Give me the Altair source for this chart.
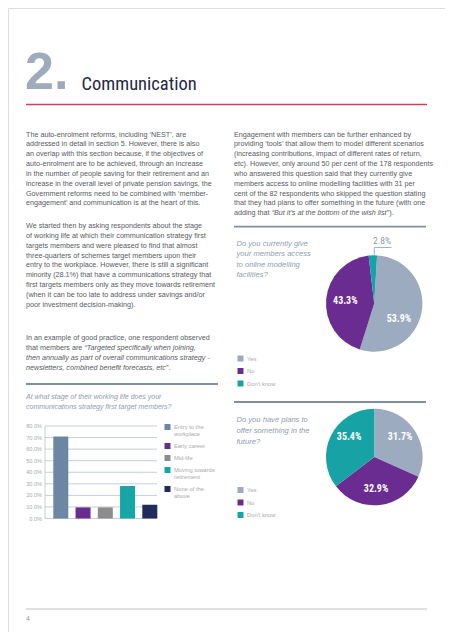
import math
import altair as alt
import pandas as pd

# ---------------- data ----------------
section_number = "2."
section_title = "Communication"

left_paragraph_1 = [
    "The auto-enrolment reforms, including ‘NEST’, are",
    "addressed in detail in section 5. However, there is also",
    "an overlap with this section because, if the objectives of",
    "auto-enrolment are to be achieved, through an increase",
    "in the number of people saving for their retirement and an",
    "increase in the overall level of private pension savings, the",
    "Government reforms need to be combined with ‘member-",
    "engagement’ and communication is at the heart of this.",
]
left_paragraph_2 = [
    "We started then by asking respondents about the stage",
    "of working life at which their communication strategy first",
    "targets members and were pleased to find that almost",
    "three-quarters of schemes target members upon their",
    "entry to the workplace. However, there is still a significant",
    "minority (28.1%) that have a communications strategy that",
    "first targets members only as they move towards retirement",
    "(when it can be too late to address under savings and/or",
    "poor investment decision-making).",
]
left_paragraph_3 = [
    "In an example of good practice, one respondent observed",
    "that members are *“Targeted specifically when joining,*",
    "*then annually as part of overall communications strategy -*",
    "*newsletters, combined benefit forecasts, etc”*.",
]
right_paragraph = [
    "Engagement with members can be further enhanced by",
    "providing ‘tools’ that allow them to model different scenarios",
    "(increasing contributions, impact of different rates of return,",
    "etc). However, only around 50 per cent of the 178 respondents",
    "who answered this question said that they currently give",
    "members access to online modelling facilities with 31 per",
    "cent of the 82 respondents who skipped the question stating",
    "that they had plans to offer something in the future (with one",
    "adding that *“But it’s at the bottom of the wish list”*).",
]

bar_question = [
    "At what stage of their working life does your",
    "communications strategy first target members?",
]
bar_categories = [
    "Entry to the\nworkplace",
    "Early career",
    "Mid-life",
    "Moving towards\nretirement",
    "None of the\nabove",
]
bar_values = [71.0, 9.6, 9.6, 28.1, 11.9]
bar_ticks = [0, 10, 20, 30, 40, 50, 60, 70, 80]

pie_categories = ["Yes", "No", "Don't know"]
pie1_question = ["Do you currently give", "your members access", "to online modelling", "facilities?"]
pie1_values = [53.9, 43.3, 2.8]
pie2_question = ["Do you have plans to", "offer something in the", "future?"]
pie2_values = [31.7, 32.9, 35.4]

page_number = "4"

# ---------------- style ----------------
MARGIN = 8
W, H = 437, 624
BODY = "Liberation Sans, Arial, sans-serif"
CONDENSED = "Roboto Condensed, DejaVu Sans Condensed, Liberation Sans, sans-serif"
TEXT_GREY = "#575a62"
QUESTION = "#8e9cb0"
LIGHT = "#a9abae"
RULE_BLUE = "#7f8fa5"
bar_colors = ["#6d86a3", "#6a2c91", "#8c8c8e", "#17a6a7", "#1e2b5c"]
pie_colors = ["#9cabbf", "#6a2c91", "#17a3a5"]
pie1_label_frac = [0.61, 0.5, None]
pie2_label_frac = [0.46, 0.53, 0.6]


def X(p):
    return p - MARGIN


def Y(p):
    return p - MARGIN


_w = {}
for chars, w in [(" ,.:;!ft/I[]", 278), ("ijl‘’'", 222), ("r-()“”\"", 333),
                 ("ckvxyzsJ", 500), ("abdeghnopqu0123456789?_", 556),
                 ("mM", 833), ("w", 722), ("ABEKPSVXY", 667), ("CDHNRU", 722),
                 ("FTZ", 611), ("GOQ", 778), ("L", 556), ("W", 944), ("%", 889)]:
    for c in chars:
        _w[c] = w


def text_width(s, size):
    return sum(_w.get(c, 556) for c in s) / 1000.0 * size


def text_layers(lines, x0, y0, lh, size, color, italic=False, font=BODY, weight="normal"):
    rows = []
    for i, line in enumerate(lines):
        parts = line.split("*")
        x = x0
        for k, part in enumerate(parts):
            if not part:
                continue
            it = (k % 2 == 1) != italic
            rows.append({"t": part, "px": X(x), "py": Y(y0 + i * lh), "it": it})
            x += text_width(part, size)
    df = pd.DataFrame(rows)
    out = []
    for it in (False, True):
        sub = df[df["it"] == it]
        if len(sub) == 0:
            continue
        out.append(
            alt.Chart(sub[["t", "px", "py"]]).mark_text(
                align="left", baseline="middle", font=font, fontSize=size,
                fontStyle="italic" if it else "normal", fontWeight=weight, color=color,
            ).encode(
                x=alt.X("px:Q", scale=None, axis=None),
                y=alt.Y("py:Q", scale=None, axis=None),
                text="t:N",
            )
        )
    return out


def hline(x1, x2, y, color, width):
    return alt.Chart(pd.DataFrame({"k": [0]})).mark_rule(color=color, strokeWidth=width).encode(
        x=alt.value(X(x1)), x2=alt.value(X(x2)), y=alt.value(Y(y))
    )


def vline(x, y1, y2, color, width):
    return alt.Chart(pd.DataFrame({"k": [0]})).mark_rule(color=color, strokeWidth=width).encode(
        x=alt.value(X(x)), y=alt.value(Y(y1)), y2=alt.value(Y(y2))
    )


layers = []

# ---------------- header ----------------
layers.append(
    alt.Chart(pd.DataFrame({"t": [section_number]})).mark_text(
        align="left", baseline="alphabetic", font=BODY, fontSize=52, fontWeight="bold", color="#9dabbd"
    ).encode(x=alt.value(X(25)), y=alt.value(Y(89)), text="t:N")
)
layers.append(
    alt.Chart(pd.DataFrame({"t": [section_title]})).mark_text(
        align="left", baseline="alphabetic", font=CONDENSED, fontSize=18.5, color="#1f2946"
    ).encode(x=alt.value(X(81.5)), y=alt.value(Y(90)), text="t:N")
)
layers.append(hline(26, 427, 104.5, "#c8435d", 1.4))

# ---------------- body text ----------------
LH = 9.85
BS = 7.2
layers += text_layers(left_paragraph_1, 26, 134.5, LH, BS, TEXT_GREY)
layers += text_layers(left_paragraph_2, 26, 226, LH, BS, TEXT_GREY)
layers += text_layers(left_paragraph_3, 26, 338, LH, BS, TEXT_GREY)
layers += text_layers(right_paragraph, 234, 134.5, LH, BS, TEXT_GREY)

# separators
layers.append(hline(26, 218, 384, RULE_BLUE, 1.8))
layers.append(hline(234, 426, 226.7, RULE_BLUE, 1.8))
layers.append(hline(234, 426, 402, RULE_BLUE, 1.8))
layers.append(hline(26, 427, 609, "#b3b3b3", 0.8))

# ---------------- bar chart ----------------
layers += text_layers(bar_question, 26, 397, 9.6, 7.0, QUESTION, italic=True)

bar_df = pd.DataFrame({"category": bar_categories, "share": bar_values})
tick_df = pd.DataFrame({"tick": bar_ticks, "label": [f"{t:.1f}%" for t in bar_ticks]})
span_df = pd.DataFrame({"lo": [min(bar_ticks)], "hi": [max(bar_ticks)]})
x_scale = alt.Scale(domain=bar_categories, range=[X(48.85), X(161.75)], paddingInner=0.326, paddingOuter=0.2)
y_scale = alt.Scale(domain=[min(bar_ticks), max(bar_ticks)], range=[Y(518.5), Y(426)], nice=False)

grid = alt.Chart(tick_df).mark_rule(color="#b9c2ce", strokeWidth=0.8).encode(
    y=alt.Y("tick:Q", scale=y_scale, axis=None), x=alt.value(X(45)), x2=alt.value(X(157))
)
yaxis_line = alt.Chart(span_df).mark_rule(color="#b9c2ce", strokeWidth=0.8).encode(
    x=alt.value(X(45)), y=alt.Y("lo:Q", scale=y_scale, axis=None), y2="hi:Q"
)
ylabels = alt.Chart(tick_df).mark_text(
    align="right", baseline="middle", font=BODY, fontSize=5.6, color=LIGHT
).encode(y=alt.Y("tick:Q", scale=y_scale, axis=None), x=alt.value(X(42)), text="label:N")
bars = alt.Chart(bar_df).mark_bar().encode(
    x=alt.X("category:N", scale=x_scale, axis=None, sort=bar_categories),
    y=alt.Y("share:Q", scale=y_scale, axis=None),
    color=alt.Color("category:N", scale=alt.Scale(domain=bar_categories, range=bar_colors), legend=None),
)
layers.append(alt.layer(grid, yaxis_line, ylabels, bars))

# bar legend (manual)
leg_rows = []
yy = 427
for c in bar_categories:
    leg_rows.append({"category": c, "py": Y(yy)})
    yy += 12 + 7 * c.count("\n")
leg_df = pd.DataFrame(leg_rows)
layers.append(
    alt.Chart(leg_df).mark_square(size=36, opacity=1).encode(
        x=alt.value(X(167.5)), y=alt.Y("py:Q", scale=None, axis=None),
        color=alt.Color("category:N", scale=alt.Scale(domain=bar_categories, range=bar_colors), legend=None),
    )
)
layers.append(
    alt.Chart(leg_df).mark_text(
        align="left", baseline="middle", font=BODY, fontSize=5.8, color=LIGHT, lineBreak="\n", lineHeight=7
    ).encode(x=alt.value(X(174)), y=alt.Y("py:Q", scale=None, axis=None), text="category:N")
)


# ---------------- pies ----------------
def pie(values, fracs, cx, cy, r, start, label_r):
    cum = [sum(values[:i]) for i in range(len(values))]
    df = pd.DataFrame({
        "answer": pie_categories,
        "pct": values,
        "k": list(range(len(values))),
    })
    theta_scale = alt.Scale(domain=[0, 100], range=[start, start + 2 * math.pi])
    arcs = alt.Chart(df).mark_arc(outerRadius=r).encode(
        theta=alt.Theta("pct:Q", stack=True, scale=theta_scale),
        order=alt.Order("k:Q"),
        color=alt.Color("answer:N", scale=alt.Scale(domain=pie_categories, range=pie_colors), legend=None),
        x=alt.value(X(cx)), y=alt.value(Y(cy)),
    )
    lab = pd.DataFrame({
        "pos": [c + v * f for c, v, f in zip(cum, values, fracs) if f is not None],
        "label": [f"{v:.1f}%" for v, f in zip(values, fracs) if f is not None],
    })
    labels = alt.Chart(lab).mark_text(radius=label_r, font=CONDENSED, fontSize=10, fontWeight="bold",
                                      color="white").encode(
        theta=alt.Theta("pos:Q", stack=None, scale=theta_scale),
        text="label:N",
        x=alt.value(X(cx)), y=alt.value(Y(cy)),
    )
    return alt.layer(arcs, labels)


def pie_legend(x, y0, step):
    df = pd.DataFrame({"answer": pie_categories,
                       "py": [Y(y0 + i * step) for i in range(len(pie_categories))]})
    sq = alt.Chart(df).mark_square(size=36, opacity=1).encode(
        x=alt.value(X(x)), y=alt.Y("py:Q", scale=None, axis=None),
        color=alt.Color("answer:N", scale=alt.Scale(domain=pie_categories, range=pie_colors), legend=None),
    )
    tx = alt.Chart(df).mark_text(align="left", baseline="middle", font=BODY, fontSize=5.8,
                                 color=LIGHT).encode(
        x=alt.value(X(x + 6.5)), y=alt.Y("py:Q", scale=None, axis=None), text="answer:N")
    return [sq, tx]


layers += text_layers(pie1_question, 236.5, 244, 10.3, 7.6, QUESTION, italic=True)
layers.append(pie(pie1_values, pie1_label_frac, 374.2, 303.5, 48.2, 0.06, 29))
small = pd.DataFrame({"t": [f"{pie1_values[2]:.1f}%"]})
layers.append(
    alt.Chart(small).mark_text(align="center", baseline="middle", font=CONDENSED, fontSize=9.5,
                               color="#8e9cb0").encode(x=alt.value(X(382)), y=alt.value(Y(240.5)), text="t:N")
)
layers.append(hline(374.3, 391.5, 247.5, "#8e9cb0", 0.8))
layers.append(vline(374.3, 247.5, 256, "#8e9cb0", 0.8))
layers += pie_legend(240.5, 358.5, 12.5)

layers += text_layers(pie2_question, 236.5, 420, 10.8, 7.6, QUESTION, italic=True)
layers.append(pie(pie2_values, pie2_label_frac, 374.3, 457, 48.3, 0.0, 32.5))
layers += pie_legend(240.5, 490, 12.5)

# page number
layers.append(
    alt.Chart(pd.DataFrame({"t": [page_number]})).mark_text(
        align="left", baseline="middle", font=BODY, fontSize=7, color="#9a9a9a"
    ).encode(x=alt.value(X(26)), y=alt.value(Y(619)), text="t:N")
)

chart = (
    alt.layer(*layers)
    .resolve_scale(x="independent", y="independent", color="independent", theta="independent")
    .properties(width=W, height=H, autosize=alt.AutoSizeParams(type="none"), padding=0)
    .configure_view(strokeWidth=0)
    .configure(background="white")
)

chart.save("out.html", embed_options={"renderer": "svg", "actions": False})
